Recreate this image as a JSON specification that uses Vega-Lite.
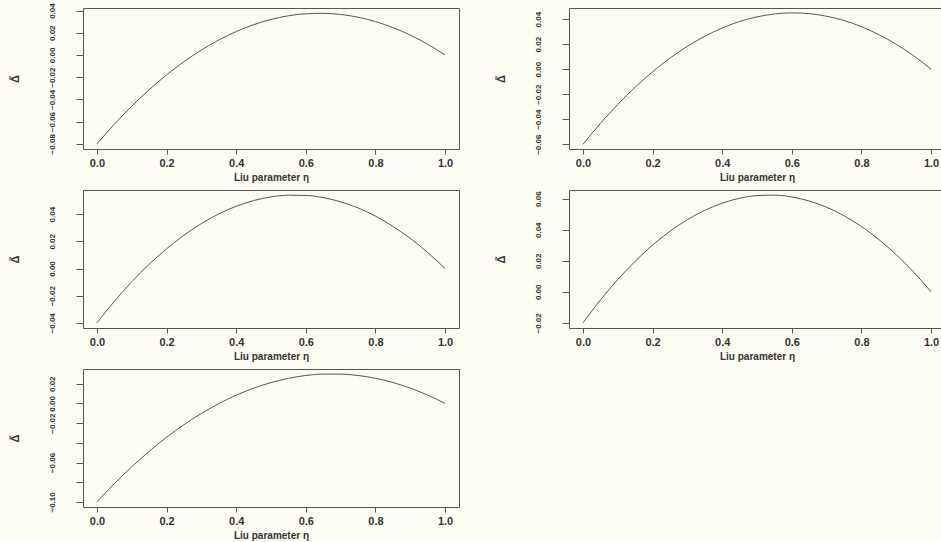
{
  "$schema": "https://vega.github.io/schema/vega-lite/v6.json",
  "background": "#fdfdf4",
  "padding": {"top": 2, "left": 8, "right": 0, "bottom": 0},
  "datasets": {
    "p1": [
      {"eta": 0, "delta": -0.0801}, {"eta": 0.05, "delta": -0.0624}, {"eta": 0.1, "delta": -0.0461}, {"eta": 0.15, "delta": -0.0313},
      {"eta": 0.2, "delta": -0.018}, {"eta": 0.25, "delta": -0.006}, {"eta": 0.3, "delta": 0.0044}, {"eta": 0.35, "delta": 0.0135},
      {"eta": 0.4, "delta": 0.0211}, {"eta": 0.45, "delta": 0.0272}, {"eta": 0.5, "delta": 0.032}, {"eta": 0.55, "delta": 0.0353},
      {"eta": 0.6, "delta": 0.0371}, {"eta": 0.65, "delta": 0.0375}, {"eta": 0.7, "delta": 0.0365}, {"eta": 0.75, "delta": 0.034},
      {"eta": 0.8, "delta": 0.0301}, {"eta": 0.85, "delta": 0.0247}, {"eta": 0.9, "delta": 0.0179}, {"eta": 0.95, "delta": 0.0097},
      {"eta": 1, "delta": 0}
    ],
    "p2": [
      {"eta": 0, "delta": -0.0601}, {"eta": 0.05, "delta": -0.0434}, {"eta": 0.1, "delta": -0.0282}, {"eta": 0.15, "delta": -0.0144},
      {"eta": 0.2, "delta": -0.0021}, {"eta": 0.25, "delta": 0.0088}, {"eta": 0.3, "delta": 0.0183}, {"eta": 0.35, "delta": 0.0263},
      {"eta": 0.4, "delta": 0.0329}, {"eta": 0.45, "delta": 0.0381}, {"eta": 0.5, "delta": 0.0418}, {"eta": 0.55, "delta": 0.0441},
      {"eta": 0.6, "delta": 0.045}, {"eta": 0.65, "delta": 0.0444}, {"eta": 0.7, "delta": 0.0423}, {"eta": 0.75, "delta": 0.0389},
      {"eta": 0.8, "delta": 0.034}, {"eta": 0.85, "delta": 0.0276}, {"eta": 0.9, "delta": 0.0199}, {"eta": 0.95, "delta": 0.0107},
      {"eta": 1, "delta": 0}
    ],
    "p3": [
      {"eta": 0, "delta": -0.04}, {"eta": 0.05, "delta": -0.0242}, {"eta": 0.1, "delta": -0.0098}, {"eta": 0.15, "delta": 0.0031},
      {"eta": 0.2, "delta": 0.0145}, {"eta": 0.25, "delta": 0.0245}, {"eta": 0.3, "delta": 0.0331}, {"eta": 0.35, "delta": 0.0402},
      {"eta": 0.4, "delta": 0.0458}, {"eta": 0.45, "delta": 0.05}, {"eta": 0.5, "delta": 0.0527}, {"eta": 0.55, "delta": 0.054},
      {"eta": 0.6, "delta": 0.0538}, {"eta": 0.65, "delta": 0.0522}, {"eta": 0.7, "delta": 0.0491}, {"eta": 0.75, "delta": 0.0446},
      {"eta": 0.8, "delta": 0.0386}, {"eta": 0.85, "delta": 0.0311}, {"eta": 0.9, "delta": 0.0222}, {"eta": 0.95, "delta": 0.0118},
      {"eta": 1, "delta": 0}
    ],
    "p4": [
      {"eta": 0, "delta": -0.02}, {"eta": 0.05, "delta": -0.0053}, {"eta": 0.1, "delta": 0.0079}, {"eta": 0.15, "delta": 0.0197},
      {"eta": 0.2, "delta": 0.0301}, {"eta": 0.25, "delta": 0.039}, {"eta": 0.3, "delta": 0.0465}, {"eta": 0.35, "delta": 0.0525},
      {"eta": 0.4, "delta": 0.0571}, {"eta": 0.45, "delta": 0.0603}, {"eta": 0.5, "delta": 0.062}, {"eta": 0.55, "delta": 0.0623},
      {"eta": 0.6, "delta": 0.0611}, {"eta": 0.65, "delta": 0.0585}, {"eta": 0.7, "delta": 0.0545}, {"eta": 0.75, "delta": 0.049},
      {"eta": 0.8, "delta": 0.0421}, {"eta": 0.85, "delta": 0.0337}, {"eta": 0.9, "delta": 0.0239}, {"eta": 0.95, "delta": 0.0127},
      {"eta": 1, "delta": 0}
    ],
    "p5": [
      {"eta": 0, "delta": -0.1}, {"eta": 0.05, "delta": -0.0815}, {"eta": 0.1, "delta": -0.0644}, {"eta": 0.15, "delta": -0.0487},
      {"eta": 0.2, "delta": -0.0344}, {"eta": 0.25, "delta": -0.0216}, {"eta": 0.3, "delta": -0.0102}, {"eta": 0.35, "delta": -0.0002},
      {"eta": 0.4, "delta": 0.0084}, {"eta": 0.45, "delta": 0.0155}, {"eta": 0.5, "delta": 0.0212}, {"eta": 0.55, "delta": 0.0255},
      {"eta": 0.6, "delta": 0.0284}, {"eta": 0.65, "delta": 0.0298}, {"eta": 0.7, "delta": 0.0298}, {"eta": 0.75, "delta": 0.0284},
      {"eta": 0.8, "delta": 0.0256}, {"eta": 0.85, "delta": 0.0213}, {"eta": 0.9, "delta": 0.0156}, {"eta": 0.95, "delta": 0.0085},
      {"eta": 1, "delta": 0}
    ]
  },
  "vconcat": [
    {
      "hconcat": [
        {
          "width": 376, "height": 141,
          "data": {"name": "p1"},
          "mark": {"type": "line", "color": "#555555", "strokeWidth": 1, "interpolate": "monotone"},
          "encoding": {
            "x": {"field": "eta", "type": "quantitative", "scale": {"domain": [-0.04, 1.04], "nice": false, "zero": false},
                  "axis": {"values": [0, 0.2, 0.4, 0.6, 0.8, 1], "format": ".1f", "title": "Liu parameter η"}},
            "y": {"field": "delta", "type": "quantitative", "scale": {"domain": [-0.0847, 0.0423], "nice": false, "zero": false},
                  "axis": {"values": [-0.08, -0.06, -0.04, -0.02, 0, 0.02, 0.04], "format": ".2f", "title": "Δ̃"}}
          }
        },
        {
          "width": 376, "height": 141,
          "data": {"name": "p2"},
          "mark": {"type": "line", "color": "#555555", "strokeWidth": 1, "interpolate": "monotone"},
          "encoding": {
            "x": {"field": "eta", "type": "quantitative", "scale": {"domain": [-0.04, 1.04], "nice": false, "zero": false},
                  "axis": {"values": [0, 0.2, 0.4, 0.6, 0.8, 1], "format": ".1f", "title": "Liu parameter η"}},
            "y": {"field": "delta", "type": "quantitative", "scale": {"domain": [-0.0638, 0.0489], "nice": false, "zero": false},
                  "axis": {"values": [-0.06, -0.04, -0.02, 0, 0.02, 0.04], "format": ".2f", "title": "Δ̃"}}
          }
        }
      ]
    },
    {
      "hconcat": [
        {
          "width": 376, "height": 138,
          "data": {"name": "p3"},
          "mark": {"type": "line", "color": "#555555", "strokeWidth": 1, "interpolate": "monotone"},
          "encoding": {
            "x": {"field": "eta", "type": "quantitative", "scale": {"domain": [-0.04, 1.04], "nice": false, "zero": false},
                  "axis": {"values": [0, 0.2, 0.4, 0.6, 0.8, 1], "format": ".1f", "title": "Liu parameter η"}},
            "y": {"field": "delta", "type": "quantitative", "scale": {"domain": [-0.0438, 0.0578], "nice": false, "zero": false},
                  "axis": {"values": [-0.04, -0.02, 0, 0.02, 0.04], "format": ".2f", "title": "Δ̃"}}
          }
        },
        {
          "width": 376, "height": 138,
          "data": {"name": "p4"},
          "mark": {"type": "line", "color": "#555555", "strokeWidth": 1, "interpolate": "monotone"},
          "encoding": {
            "x": {"field": "eta", "type": "quantitative", "scale": {"domain": [-0.04, 1.04], "nice": false, "zero": false},
                  "axis": {"values": [0, 0.2, 0.4, 0.6, 0.8, 1], "format": ".1f", "title": "Liu parameter η"}},
            "y": {"field": "delta", "type": "quantitative", "scale": {"domain": [-0.0233, 0.0656], "nice": false, "zero": false},
                  "axis": {"values": [-0.02, 0, 0.02, 0.04, 0.06], "format": ".2f", "title": "Δ̃"}}
          }
        }
      ]
    },
    {
      "hconcat": [
        {
          "width": 376, "height": 138,
          "data": {"name": "p5"},
          "mark": {"type": "line", "color": "#555555", "strokeWidth": 1, "interpolate": "monotone"},
          "encoding": {
            "x": {"field": "eta", "type": "quantitative", "scale": {"domain": [-0.04, 1.04], "nice": false, "zero": false},
                  "axis": {"values": [0, 0.2, 0.4, 0.6, 0.8, 1], "format": ".1f", "title": "Liu parameter η"}},
            "y": {"field": "delta", "type": "quantitative", "scale": {"domain": [-0.1052, 0.035], "nice": false, "zero": false},
                  "axis": {"values": [-0.1, -0.08, -0.06, -0.04, -0.02, 0, 0.02], "format": ".2f", "title": "Δ̃",
                           "labelExpr": "(datum.value == -0.04 || datum.value == -0.08) ? '' : datum.label"}}
          }
        }
      ]
    }
  ],
  "spacing": 6,
  "config": {
    "concat": {"spacing": 34},
    "view": {"stroke": "#555555", "strokeWidth": 1},
    "axis": {
      "domain": false, "grid": false, "ticks": true, "tickColor": "#555555",
      "labelColor": "#333333", "titleColor": "#333333",
      "labelFont": "Liberation Sans", "titleFont": "Liberation Sans",
      "labelFontWeight": "bold", "titleFontWeight": "bold", "labelOverlap": false, "labelFlush": false
    },
    "axisX": {"tickSize": 5, "labelFontSize": 11, "labelPadding": 3, "titleFontSize": 10, "titlePadding": 4},
    "axisY": {"tickSize": 7, "labelFontSize": 8, "labelFontWeight": "bold", "labelAngle": 270,
              "labelAlign": "center", "labelBaseline": "bottom", "labelPadding": 20,
              "titleFontSize": 11, "titleAngle": 270, "titlePadding": 28}
  }
}
